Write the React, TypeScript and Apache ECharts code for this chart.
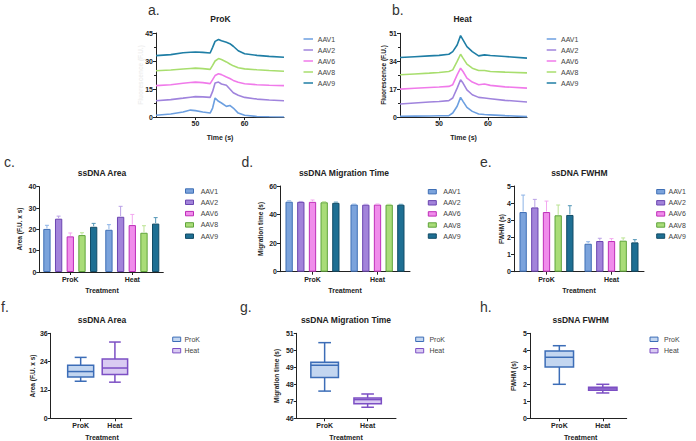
import React, { useEffect, useRef } from "react";
import * as echarts from "echarts";

const AAV_NAMES = ["AAV1", "AAV2", "AAV6", "AAV8", "AAV9"];
const TREATMENTS = ["ProK", "Heat"];
const timeTicks = [50, 60];
const treatmentTicks = [1, 2];

// a. ProK electropherograms (time s, fluorescence F.U.)
const prokTime = [42, 45, 47.5, 49, 50, 51.5, 53, 53.5, 54, 54.7, 55.3, 56.3, 57, 57.7, 58.7, 60, 62.5, 65, 68];
const prokAAV1 = [0.9, 1.6, 2.7, 3.7, 3.4, 2.7, 2.1, 4.8, 10.2, 8.4, 7.5, 5.7, 6.2, 4.8, 2.1, 0.9, 0.3, 0.1, 0];
const prokAAV2 = [8.7, 9.3, 10.1, 10.6, 10.9, 10.8, 10.5, 13.7, 18.2, 18.7, 17.7, 17.0, 15.0, 13.0, 11.7, 10.5, 9.6, 9.1, 8.7];
const prokAAV6 = [16.8, 17.3, 18.1, 18.5, 18.7, 18.4, 17.9, 20.0, 22.2, 23.2, 22.7, 21.4, 20.6, 19.6, 18.6, 17.8, 17.3, 17.0, 16.8];
const prokAAV8 = [24.8, 25.2, 25.7, 26.0, 26.2, 25.9, 25.5, 27.7, 30.0, 31.3, 30.8, 29.5, 28.4, 27.4, 26.4, 25.8, 25.3, 24.9, 24.5];
const prokAAV9 = [32.9, 33.4, 34.4, 34.7, 34.8, 34.6, 34.3, 37.3, 40.5, 41.5, 40.8, 40.0, 39.3, 37.9, 35.5, 33.9, 33.0, 32.5, 32.0];

// b. Heat electropherograms
const heatTime = [42, 45, 48, 50, 52, 52.8, 53.7, 54.4, 54.9, 55.7, 56.8, 58.1, 59.3, 60.5, 63.5, 68];
const heatAAV1 = [0.6, 0.7, 0.8, 0.9, 1.0, 2.6, 6.7, 12.1, 9.7, 6.0, 3.6, 2.0, 1.7, 1.5, 1.0, 0.4];
const heatAAV2 = [8.1, 8.7, 9.3, 9.6, 10.1, 11.7, 17.7, 22.8, 20.8, 16.7, 13.7, 12.1, 11.7, 11.3, 10.3, 9.3];
const heatAAV6 = [17.1, 17.6, 18.1, 18.4, 18.75, 19.8, 25.8, 29.8, 27.8, 23.8, 21.4, 19.8, 20.2, 19.4, 18.5, 17.7];
const heatAAV8 = [25.8, 26.3, 26.8, 27.2, 27.8, 28.8, 33.9, 38.3, 35.9, 32.3, 29.8, 28.4, 28.4, 27.8, 27.4, 27.0];
const heatAAV9 = [36.3, 36.8, 37.3, 37.6, 38.3, 39.9, 43.9, 49.6, 47.0, 42.9, 39.9, 37.3, 37.9, 37.5, 36.9, 35.9];

// c. ssDNA Area (mean, +SD), order AAV1, AAV2, AAV6, AAV8, AAV9
const areaMeanProK = [20.2, 25.0, 16.7, 17.3, 21.2];
const areaMeanHeat = [19.8, 25.9, 22.0, 18.4, 22.7];
const areaSdProK = [1.7, 1.2, 1.6, 1.1, 1.6];
const areaSdHeat = [2.4, 4.9, 5.0, 3.3, 2.8];

// d. ssDNA Migration Time
const migMeanProK = [49.0, 48.9, 48.9, 48.6, 48.2];
const migMeanHeat = [47.0, 46.9, 47.0, 46.9, 46.9];
const migSdProK = [0.6, 0.3, 1.3, 0.4, 0.5];
const migSdHeat = [0.3, 0.3, 0.4, 0.3, 0.3];

// e. ssDNA FWHM
const fwhmMeanProK = [3.48, 3.75, 3.48, 3.29, 3.31];
const fwhmMeanHeat = [1.63, 1.79, 1.79, 1.81, 1.71];
const fwhmSdProK = [0.99, 0.47, 0.64, 0.6, 0.54];
const fwhmSdHeat = [0.12, 0.16, 0.14, 0.16, 0.16];

// f-h. box plots [min, Q1, median, Q3, max]
const areaBoxProK = [15.7, 17.5, 19.8, 22.5, 25.8];
const areaBoxHeat = [15.3, 18.5, 21.3, 25.1, 32.3];
const migBoxProK = [47.6, 48.4, 49.12, 49.3, 50.45];
const migBoxHeat = [46.65, 46.86, 47.1, 47.2, 47.43];
const fwhmBoxProK = [2.0, 3.02, 3.59, 3.96, 4.27];
const fwhmBoxHeat = [1.49, 1.65, 1.73, 1.82, 2.0];

const FONT = "'Liberation Sans', Arial, Helvetica, sans-serif";
const INK = "#222";
const LINE_COLORS = ["#6C9FE0", "#A084DD", "#F07AEA", "#A8DE6E", "#1F7EA5"];
const BAR_FILL = ["#7BA3DC", "#A283DA", "#F08CEB", "#A9DC78", "#1E6F93"];
const BAR_BORDER = ["#3F6FB5", "#6B45B0", "#BE2DB8", "#5EA33A", "#134C66"];
const ERR_COLOR = ["#8DB3E6", "#B9A0E6", "#F3A8EF", "#BBE393", "#5296B6"];
const BOX_FILL = ["#C3D6F0", "#D9CBF2"];
const BOX_BORDER = ["#3C6DB7", "#7C4FC4"];
const BAR_W = 7.3;

const GRIDS = [
  { left: 156, top: 33, width: 128, height: 84 },
  { left: 400, top: 33.3, width: 127, height: 84 },
  { left: 39.3, top: 186.7, width: 124, height: 85.3 },
  { left: 280, top: 186, width: 130, height: 85.7 },
  { left: 514, top: 186, width: 130, height: 85.7 },
  { left: 50.7, top: 333.3, width: 81, height: 85 },
  { left: 296.7, top: 333.3, width: 99.3, height: 85 },
  { left: 530, top: 333.3, width: 96.7, height: 85 },
];

const axisLine = { show: true, onZero: false, lineStyle: { color: INK, width: 1 } };
const axisTick = { show: true, length: 3, lineStyle: { color: INK, width: 1 } };
const axisLabel = { color: INK, fontSize: 7, fontWeight: "bold" as const, fontFamily: FONT, margin: 3 };

function lineX(grid: number) {
  return {
    type: "value", gridIndex: grid, min: 42, max: 68,
    axisLine, axisTick: { ...axisTick, customValues: timeTicks },
    axisLabel: { ...axisLabel, customValues: timeTicks },
    splitLine: { show: false },
  };
}
function catX(grid: number) {
  return {
    type: "category", gridIndex: grid, data: TREATMENTS, boundaryGap: true,
    axisLine, axisTick: { ...axisTick, alignWithLabel: true },
    axisLabel: { ...axisLabel, margin: 4 }, splitLine: { show: false },
  };
}
function boxX(grid: number, min: number, max: number) {
  return {
    type: "value", gridIndex: grid, min, max,
    axisLine, axisTick: { ...axisTick, customValues: treatmentTicks },
    axisLabel: { ...axisLabel, margin: 4, customValues: treatmentTicks, formatter: (v: number) => TREATMENTS[Math.round(v) - 1] },
    splitLine: { show: false },
  };
}
function valY(grid: number, min: number, max: number, interval: number, minor = false) {
  return {
    type: "value", gridIndex: grid, min, max, interval,
    axisLine, axisTick, axisLabel: { ...axisLabel, margin: 3 },
    splitLine: { show: false },
    minorTick: { show: minor, splitNumber: 2, length: 2, lineStyle: { color: INK, width: 1 } },
    minorSplitLine: { show: false },
  };
}

function errorSeries(axis: number, meansProK: number[], meansHeat: number[], sdProK: number[], sdHeat: number[]) {
  const rows: number[][] = [];
  [meansProK, meansHeat].forEach((means, t) => {
    const sds = t === 0 ? sdProK : sdHeat;
    means.forEach((m, i) => rows.push([t, i, m, m + sds[i]]));
  });
  return {
    type: "custom", xAxisIndex: axis, yAxisIndex: axis, data: rows, silent: true, z: 5,
    encode: { x: 0, y: 3 },
    renderItem: (_p: any, api: any) => {
      const cat = api.value(0);
      const idx = api.value(1);
      const p0 = api.coord([cat, api.value(2)]);
      const p1 = api.coord([cat, api.value(3)]);
      const x = p0[0] + (idx - 2) * BAR_W * 1.6;
      const style = { stroke: ERR_COLOR[idx], lineWidth: 1 };
      return {
        type: "group",
        children: [
          { type: "line", shape: { x1: x, y1: p0[1] - 0.5, x2: x, y2: p1[1] }, style },
          { type: "line", shape: { x1: x - 2, y1: p1[1], x2: x + 2, y2: p1[1] }, style },
        ],
      };
    },
  };
}

function barSeries(axis: number, meansProK: number[], meansHeat: number[]) {
  return AAV_NAMES.map((name, i) => ({
    type: "bar", name, xAxisIndex: axis, yAxisIndex: axis,
    data: [meansProK[i], meansHeat[i]],
    barWidth: BAR_W, barGap: "60%",
    itemStyle: { color: BAR_FILL[i], borderColor: BAR_BORDER[i], borderWidth: 1 },
  }));
}

function boxSeries(axis: number, t: number, vals: number[], hw: number) {
  return {
    type: "custom", name: TREATMENTS[t], xAxisIndex: axis, yAxisIndex: axis, silent: true,
    data: [[t + 1, ...vals]],
    encode: { x: 0, y: [1, 2, 3, 4, 5] },
    renderItem: (_p: any, api: any) => {
      const x = api.value(0);
      const yMin = api.coord([x, api.value(1)])[1];
      const yQ1 = api.coord([x, api.value(2)])[1];
      const yMed = api.coord([x, api.value(3)])[1];
      const yQ3 = api.coord([x, api.value(4)])[1];
      const yMax = api.coord([x, api.value(5)])[1];
      const cx = api.coord([x, api.value(3)])[0];
      const cap = hw * 0.46;
      const st = { stroke: BOX_BORDER[t], lineWidth: 1.5 };
      return {
        type: "group",
        children: [
          { type: "line", shape: { x1: cx, y1: yMax, x2: cx, y2: yQ3 }, style: st },
          { type: "line", shape: { x1: cx, y1: yQ1, x2: cx, y2: yMin }, style: st },
          { type: "line", shape: { x1: cx - cap, y1: yMax, x2: cx + cap, y2: yMax }, style: st },
          { type: "line", shape: { x1: cx - cap, y1: yMin, x2: cx + cap, y2: yMin }, style: st },
          { type: "rect", shape: { x: cx - hw, y: yQ3, width: hw * 2, height: yQ1 - yQ3 }, style: { fill: BOX_FILL[t], stroke: BOX_BORDER[t], lineWidth: 1.5 } },
          { type: "line", shape: { x1: cx - hw, y1: yMed, x2: cx + hw, y2: yMed }, style: st },
        ],
      };
    },
  };
}

function txt(text: string, x: number, y: number, size: number, opts: any = {}) {
  return {
    type: "text", x, y, rotation: opts.rotate ? Math.PI / 2 : 0, silent: true,
    style: {
      text, fill: opts.color || INK, fontSize: size, fontFamily: FONT,
      fontWeight: opts.weight || "bold", align: opts.align || "center", verticalAlign: "middle",
    },
  };
}

function lineLegend(x: number, y0: number, step: number, textOff: number) {
  const els: any[] = [];
  AAV_NAMES.forEach((n, i) => {
    const y = y0 + i * step;
    els.push({ type: "line", silent: true, shape: { x1: x, y1: y, x2: x + 9.5, y2: y }, style: { stroke: LINE_COLORS[i], lineWidth: 1.5 } });
    els.push(txt(n, x + textOff, y, 7, { weight: "normal", align: "left", color: "#444" }));
  });
  return els;
}
function rectLegend(names: string[], fills: string[], borders: string[], x: number, y0: number, step: number, textOff: number) {
  const els: any[] = [];
  names.forEach((n, i) => {
    const y = y0 + i * step;
    els.push({ type: "rect", silent: true, shape: { x, y: y - 2.2, width: 8, height: 4.4 }, style: { fill: fills[i], stroke: borders[i], lineWidth: 1 } });
    els.push(txt(n, x + textOff, y, 7, { weight: "normal", align: "left", color: "#444" }));
  });
  return els;
}

export default function App() {
  const ref = useRef<HTMLDivElement>(null);
  useEffect(() => {
    if (!ref.current) return;
    const chart = echarts.init(ref.current, undefined, { renderer: "svg" });
    const series: any[] = [];
    [prokAAV1, prokAAV2, prokAAV6, prokAAV8, prokAAV9].forEach((vals, i) => {
      series.push({
        type: "line", name: AAV_NAMES[i], xAxisIndex: 0, yAxisIndex: 0, symbol: "none",
        data: prokTime.map((t, k) => [t, vals[k]]),
        lineStyle: { color: LINE_COLORS[i], width: 1.6 }, itemStyle: { color: LINE_COLORS[i] },
      });
    });
    [heatAAV1, heatAAV2, heatAAV6, heatAAV8, heatAAV9].forEach((vals, i) => {
      series.push({
        type: "line", name: AAV_NAMES[i], xAxisIndex: 1, yAxisIndex: 1, symbol: "none",
        data: heatTime.map((t, k) => [t, vals[k]]),
        lineStyle: { color: LINE_COLORS[i], width: 1.6 }, itemStyle: { color: LINE_COLORS[i] },
      });
    });
    series.push(...barSeries(2, areaMeanProK, areaMeanHeat));
    series.push(errorSeries(2, areaMeanProK, areaMeanHeat, areaSdProK, areaSdHeat));
    series.push(...barSeries(3, migMeanProK, migMeanHeat));
    series.push(errorSeries(3, migMeanProK, migMeanHeat, migSdProK, migSdHeat));
    series.push(...barSeries(4, fwhmMeanProK, fwhmMeanHeat));
    series.push(errorSeries(4, fwhmMeanProK, fwhmMeanHeat, fwhmSdProK, fwhmSdHeat));
    series.push(boxSeries(5, 0, areaBoxProK, 13), boxSeries(5, 1, areaBoxHeat, 12.7));
    series.push(boxSeries(6, 0, migBoxProK, 13.8), boxSeries(6, 1, migBoxHeat, 13.7));
    series.push(boxSeries(7, 0, fwhmBoxProK, 14.2), boxSeries(7, 1, fwhmBoxHeat, 14.2));

    const letter = { weight: "normal", align: "left", color: "#333" };
    const graphics: any[] = [
      // panel letters
      txt("a.", 148, 10, 14, letter),
      txt("b.", 392, 10, 14, letter),
      txt("c.", 4, 162, 14, letter),
      txt("d.", 241.5, 162, 14, letter),
      txt("e.", 480, 162, 14, letter),
      txt("f.", 1, 307, 14, letter),
      txt("g.", 240, 307, 14, letter),
      txt("h.", 480, 307, 14, letter),
      // titles
      txt("ProK", 220.5, 19, 8.5),
      txt("Heat", 462.7, 19, 8.5),
      txt("ssDNA Area", 102, 173, 8.5),
      txt("ssDNA Migration Time", 344, 173, 8.5),
      txt("ssDNA FWHM", 579.3, 173, 8.5),
      txt("ssDNA Area", 102, 320, 8.5),
      txt("ssDNA Migration Time", 346, 320, 8.5),
      txt("ssDNA FWHM", 580.7, 320, 8.5),
      // axis names
      txt("Time (s)", 220, 137, 7),
      txt("Time (s)", 463.5, 137, 7),
      txt("Fluorescence (F.U.)", 140, 75, 6.5, { rotate: true, color: "#eeeeee" }),
      txt("Fluorescence (F.U.)", 383.5, 75, 6.5, { rotate: true }),
      txt("Treatment", 102, 290.7, 7),
      txt("Treatment", 345, 290.7, 7),
      txt("Treatment", 579, 290.7, 7),
      txt("Treatment", 102, 437.3, 7),
      txt("Treatment", 346, 437.3, 7),
      txt("Treatment", 580.7, 437.3, 7),
      txt("Area (F.U. x s)", 19.3, 229, 6.5, { rotate: true }),
      txt("Migration time (s)", 260.7, 229, 6.5, { rotate: true }),
      txt("FWHM (s)", 501.7, 229, 6.5, { rotate: true }),
      txt("Area (F.U. x s)", 32.3, 376, 6.5, { rotate: true }),
      txt("Migration time (s)", 276.7, 376, 6.5, { rotate: true }),
      txt("FWHM (s)", 513.3, 376, 6.5, { rotate: true }),
      // legends
      ...lineLegend(303.5, 39, 11, 14.3),
      ...lineLegend(546.7, 39, 11, 14.3),
      ...rectLegend(AAV_NAMES, BAR_FILL, BAR_BORDER, 185.5, 191, 11.3, 15.2),
      ...rectLegend(AAV_NAMES, BAR_FILL, BAR_BORDER, 428.3, 191.7, 11.1, 15),
      ...rectLegend(AAV_NAMES, BAR_FILL, BAR_BORDER, 656.7, 191.7, 11.1, 11.8),
      ...rectLegend(TREATMENTS, BOX_FILL, BOX_BORDER, 172.7, 339.3, 11.4, 11.7),
      ...rectLegend(TREATMENTS, BOX_FILL, BOX_BORDER, 415.7, 339.3, 11.4, 13.7),
      ...rectLegend(TREATMENTS, BOX_FILL, BOX_BORDER, 650, 339.3, 11.4, 14),
    ];

    chart.setOption({
      animation: false,
      backgroundColor: "#ffffff",
      textStyle: { fontFamily: FONT },
      grid: GRIDS.map((g) => ({ ...g, containLabel: false })),
      xAxis: [lineX(0), lineX(1), catX(2), catX(3), catX(4), boxX(5, 0.125, 2.49), boxX(6, 0.35, 2.66), boxX(7, 0.325, 2.55)],
      yAxis: [
        valY(0, 0, 45, 15, true), valY(1, 0, 51, 17, true),
        valY(2, 0, 40, 10), valY(3, 0, 60, 20), valY(4, 0, 5, 1),
        valY(5, 0, 36, 12), valY(6, 46, 51, 1), valY(7, 0, 5, 1),
      ],
      series,
      graphic: graphics,
    });
    return () => chart.dispose();
  }, []);
  return <div ref={ref} style={{ position: "absolute", left: 0, top: 0, width: 696, height: 441, background: "#fff" }} />;
}
